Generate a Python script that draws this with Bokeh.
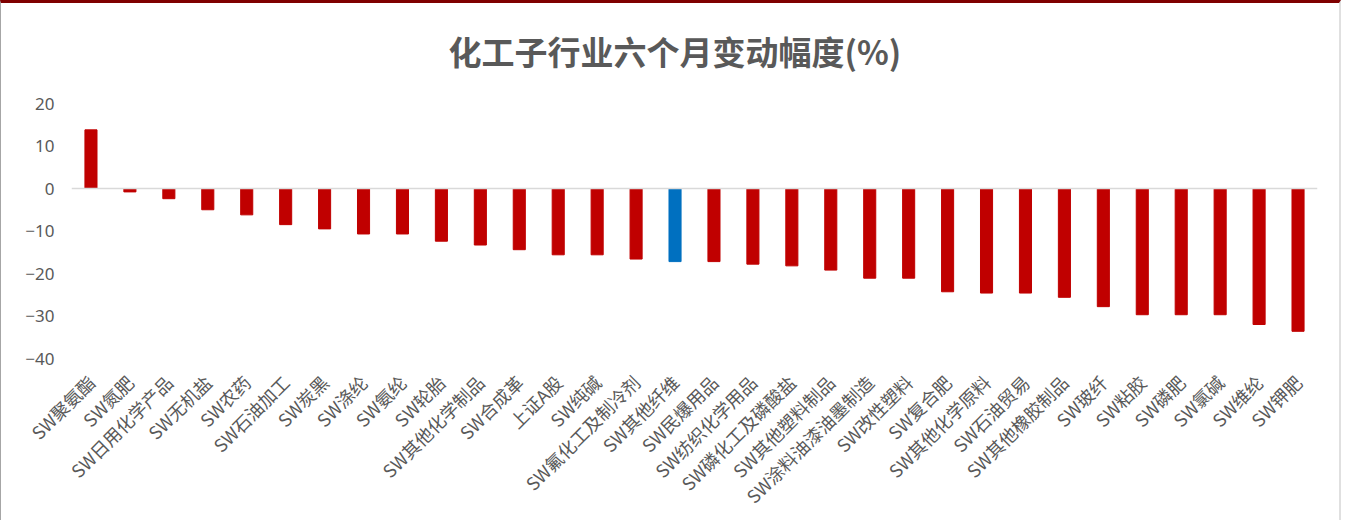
from bokeh.plotting import figure
from bokeh.models import FactorRange, Range1d, Span, ColumnDataSource, Label
from bokeh.embed import file_html
from bokeh.resources import INLINE
import math

title_text = "化工子行业六个月变动幅度(%)"
categories = [
    "SW聚氨酯", "SW氮肥", "SW日用化学产品", "SW无机盐", "SW农药", "SW石油加工",
    "SW炭黑", "SW涤纶", "SW氨纶", "SW轮胎", "SW其他化学制品", "SW合成革",
    "上证A股", "SW纯碱", "SW氟化工及制冷剂", "SW其他纤维", "SW民爆用品",
    "SW纺织化学用品", "SW磷化工及磷酸盐", "SW其他塑料制品", "SW涂料油漆油墨制造",
    "SW改性塑料", "SW复合肥", "SW其他化学原料", "SW石油贸易", "SW其他橡胶制品",
    "SW玻纤", "SW粘胶", "SW磷肥", "SW氯碱", "SW维纶", "SW钾肥",
]
values = [
    13.8, -0.8, -2.4, -5.0, -6.2, -8.5,
    -9.5, -10.7, -10.7, -12.4, -13.3, -14.4,
    -15.6, -15.6, -16.6, -17.2, -17.2,
    -17.8, -18.2, -19.2, -21.1,
    -21.1, -24.3, -24.6, -24.6, -25.6,
    -27.8, -29.7, -29.7, -29.7, -32.0, -33.6,
]
highlight = "SW其他纤维"
y_ticks = [-40, -30, -20, -10, 0, 10, 20]
y_min, y_max = -40, 20

RED = "#C00000"
BLUE = "#0070C0"
colors = [BLUE if c == highlight else RED for c in categories]

src = ColumnDataSource(dict(cat=categories, val=values, color=colors))

# layout: the axis span (-40..20) occupies 255 px; the frame extends higher
# so that the title can sit inside it (annotations are clipped to the frame)
H, TOP, BOTTOM = 520, 20, 165
frame_h = H - TOP - BOTTOM
axis_px = 255
y_top = y_min + (y_max - y_min) * frame_h / axis_px

p = figure(
    x_range=FactorRange(*categories),
    y_range=Range1d(y_min, y_top),
    width=1341, height=H,
    output_backend="svg", toolbar_location=None,
    min_border_left=70, min_border_right=25, min_border_top=TOP, min_border_bottom=BOTTOM,
)
p.styles = {
    "border-top": "3px solid #7F0000",
    "border-left": "1px solid #A6A6A6",
    "border-right": "2px solid #E0E0E0",
}

p.vbar(x="cat", top="val", bottom=0, width=0.31, source=src,
       fill_color="color", line_color="color")

p.add_layout(Span(location=0, dimension="width", line_color="#D9D9D9", line_width=1.5))

title = Label(
    x=377, y=frame_h - 50 + TOP + 3, x_units="screen", y_units="screen", text=title_text,
    text_align="left", text_baseline="middle",
    text_font="Noto Sans CJK SC", text_font_size="33px", text_font_style="bold",
    text_color="#595959",
)
p.add_layout(title)

p.xgrid.grid_line_color = None
p.ygrid.grid_line_color = None
p.outline_line_color = None

p.yaxis.ticker = y_ticks
p.yaxis.axis_line_color = None
p.yaxis.major_tick_line_color = None
p.yaxis.minor_tick_line_color = None
p.yaxis.major_label_text_font = "Noto Sans"
p.yaxis.major_label_text_font_size = "17px"
p.yaxis.major_label_text_color = "#595959"
p.yaxis.major_label_standoff = 11

p.xaxis.axis_line_color = None
p.xaxis.major_tick_line_color = None
p.xaxis.minor_tick_line_color = None
p.xaxis.major_label_orientation = math.pi / 4
p.xaxis.major_label_text_font = "Noto Sans CJK SC"
p.xaxis.major_label_text_font_size = "18px"
p.xaxis.major_label_text_color = "#595959"
p.xaxis.major_label_standoff = 14

open("out.html", "w").write(file_html(p, INLINE))
